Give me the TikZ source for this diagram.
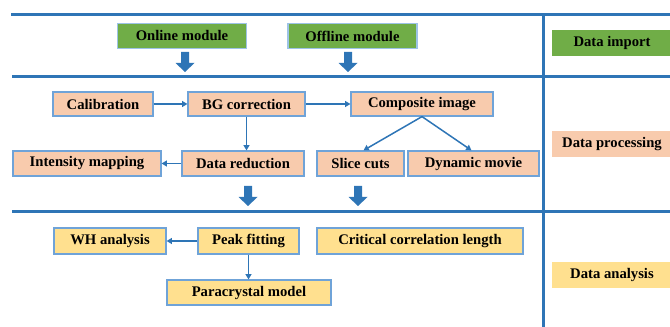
\documentclass[tikz,border=0pt]{standalone}
\usepackage{fontspec}
\setmainfont{Liberation Serif}[BoldFont={Liberation Serif Bold}]
\usetikzlibrary{arrows.meta}
\definecolor{lineblue}{HTML}{2E75B6}
\definecolor{edgeblue}{HTML}{6FA3D8}
\definecolor{lightedge}{HTML}{9DC3E6}
\definecolor{greenfill}{HTML}{70AD47}
\definecolor{salmon}{HTML}{F8CBAD}
\definecolor{yellowfill}{HTML}{FFE08F}
\newcommand\px{*0.75pt}
\begin{document}
\begin{tikzpicture}[x=0.75pt,y=-0.75pt,
  basebox/.style={inner sep=0pt, minimum height=25\px, font=\fontsize{11}{13}\selectfont\bfseries},
  greenbox/.style={basebox, fill=greenfill, draw=lightedge, line width=1.2\px},
  procbox/.style={basebox, fill=salmon, draw=edgeblue, line width=1.2\px},
  anabox/.style={basebox, fill=yellowfill, draw=edgeblue, line width=1.2\px},
  stagebox/.style={basebox, minimum width=120\px, minimum height=26\px},
  sepline/.style={draw=lineblue, line width=3\px},
  flow/.style={draw=lineblue, line width=1.5\px, -{Triangle[length=4pt,width=4.5pt]}},
  blockdown/.pic={\fill[lineblue] (-4,0) -- (4,0) -- (4,11) -- (9.5,11) -- (0,20) -- (-9.5,11) -- (-4,11) -- cycle;}
]
\useasboundingbox (0,0) rectangle (670,327);
% separator lines
\draw[sepline] (11,15) -- (670,15);
\draw[sepline] (12,76.5) -- (670,76.5);
\draw[sepline] (12,212) -- (670,212);
\draw[sepline] (543,15) -- (543,327);

% stage labels
\node[stagebox, fill=greenfill] (imp) at (612,43) {Data import};
\node[stagebox, fill=salmon] (proc) at (612,144) {Data processing};
\node[stagebox, fill=yellowfill] (ana) at (612,275) {Data analysis};

% import row
\node[greenbox, minimum width=129\px] (online) at (182,36) {Online module};
\node[greenbox, minimum width=129\px] (offline) at (352.5,36) {Offline module};
\pic (a1) at (185,52) {blockdown};
\pic (a2) at (348,52) {blockdown};

% processing
\node[procbox, minimum width=100\px, minimum height=24\px] (cal) at (103,104) {Calibration};
\node[procbox, minimum width=117\px, minimum height=24\px] (bg) at (246.5,104) {BG correction};
\node[procbox, minimum width=142\px, minimum height=24\px] (comp) at (422,104) {Composite image};
\node[procbox, minimum width=148\px] (im) at (87,163.5) {Intensity mapping};
\node[procbox, minimum width=122\px] (dr) at (243,163.5) {Data reduction};
\node[procbox, minimum width=87\px] (slice) at (360.5,163.5) {Slice cuts};
\node[procbox, minimum width=131\px] (dyn) at (473.5,163.5) {Dynamic movie};
\pic (a3) at (248,186) {blockdown};
\pic (a4) at (358,186) {blockdown};

\draw[flow] (cal) -- (bg);
\draw[flow] (bg) -- (comp);
\draw[flow] (bg.south) -- (bg.south |- dr.north);
\draw[flow] (dr) -- (im);
\draw[flow] (comp.south) -- ([xshift=3\px]slice.north);
\draw[flow] (comp.south) -- ([xshift=-2\px]dyn.north);

% analysis
\node[anabox, minimum width=112\px, minimum height=26\px] (wh) at (110,241) {WH analysis};
\node[anabox, minimum width=101\px, minimum height=26\px] (pf) at (248.5,241) {Peak fitting};
\node[anabox, minimum width=206\px, minimum height=26\px] (ccl) at (420,241) {Critical correlation length};
\node[anabox, minimum width=164\px] (pc) at (249,292.5) {Paracrystal model};

\draw[flow] (pf) -- (wh);
\draw[flow] (pf.south) -- (pf.south |- pc.north);
\end{tikzpicture}
\end{document}
